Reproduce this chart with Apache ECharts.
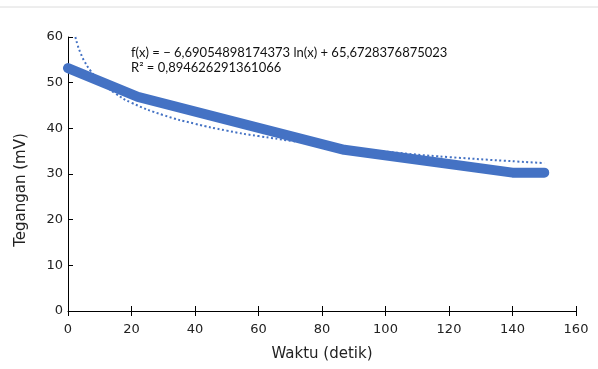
<!DOCTYPE html>
<html>
<head>
<meta charset="utf-8">
<script src="https://cdn.jsdelivr.net/npm/echarts@6/dist/echarts.min.js"></script>
<style>
  html, body { margin: 0; padding: 0; background: #fff; }
  #chart { width: 598px; height: 369px; }
</style>
</head>
<body>
<div id="chart"></div>
<script>
// measured series (time in s, voltage in mV)
const waktu = [0, 22, 87, 140, 150];
const tegangan = [53.2, 46.9, 35.3, 30.3, 30.3];

// logarithmic trendline
const trendX = [1.5, 2, 3, 4, 5, 7, 10, 15, 20, 30, 40, 50, 60, 80, 100, 120, 150];
const trendY = [62.9, 61.0, 58.3, 56.4, 54.9, 52.7, 50.3, 47.6, 45.6, 42.9, 41.0, 39.5, 38.3, 36.4, 34.9, 33.7, 32.4];

const xTicks = { min: 0, max: 160, interval: 20 };
const yTicks = { min: 0, max: 60, interval: 10 };

const eqText = 'f(x) = − 6,69054898174373 ln(x) + 65,6728376875023';
const r2Text = 'R² = 0,894626291361066';

const toPairs = (xs, ys) => xs.map((x, i) => [x, ys[i]]);

const axisFont = { color: '#222', fontSize: 13, fontFamily: 'DejaVu Sans' };

const myChart = echarts.init(document.getElementById('chart'), null, { renderer: 'canvas' });
myChart.setOption({
  animation: false,
  grid: { left: 68, right: 22, top: 37, bottom: 58 },
  xAxis: [
    {
      type: 'value',
      min: xTicks.min, max: xTicks.max, interval: xTicks.interval,
      name: 'Waktu (detik)',
      nameLocation: 'middle',
      nameGap: 36,
      nameTextStyle: { color: '#222', fontSize: 15, fontFamily: 'DejaVu Sans' },
      axisLine: { lineStyle: { color: '#000', width: 1 } },
      axisTick: { length: 5, lineStyle: { color: '#000' } },
      axisLabel: Object.assign({ margin: 12 }, axisFont),
      splitLine: { show: false }
    },
    {
      type: 'value', position: 'bottom',
      min: xTicks.min, max: xTicks.max, interval: xTicks.interval,
      axisLine: { show: false },
      axisTick: { inside: true, length: 5, lineStyle: { color: '#000' } },
      axisLabel: { show: false },
      splitLine: { show: false }
    }
  ],
  yAxis: {
    type: 'value',
    min: yTicks.min, max: yTicks.max, interval: yTicks.interval,
    axisLine: { show: true, lineStyle: { color: '#000', width: 1 } },
    axisTick: { show: true, inside: true, length: 5, lineStyle: { color: '#000' } },
    axisLabel: Object.assign({ margin: 5 }, axisFont),
    splitLine: { show: false }
  },
  series: [
    {
      name: 'trend',
      type: 'line',
      data: toPairs(trendX, trendY),
      smooth: true,
      showSymbol: false,
      clip: true,
      lineStyle: { color: '#4472C4', width: 2, type: [2, 2.5] },
      z: 2
    },
    {
      name: 'Tegangan',
      type: 'line',
      data: toPairs(waktu, tegangan),
      showSymbol: false,
      lineStyle: { color: '#4472C4', width: 10, cap: 'round', join: 'round' },
      z: 3
    }
  ],
  graphic: [
    { type: 'line', shape: { x1: 0, y1: 7, x2: 598, y2: 7 }, style: { stroke: '#dcdcdc', lineWidth: 1 } },
    { type: 'text', left: 131, top: 46, style: { text: eqText, fill: '#111', font: '13px Lato' } },
    { type: 'text', left: 131, top: 61, style: { text: r2Text, fill: '#111', font: '13px Lato' } },
    {
      type: 'text', x: 21, y: 190, rotation: Math.PI / 2,
      style: { text: 'Tegangan (mV)', fill: '#222', font: '15px "DejaVu Sans"', align: 'center', verticalAlign: 'middle' }
    }
  ]
});
</script>
</body>
</html>
